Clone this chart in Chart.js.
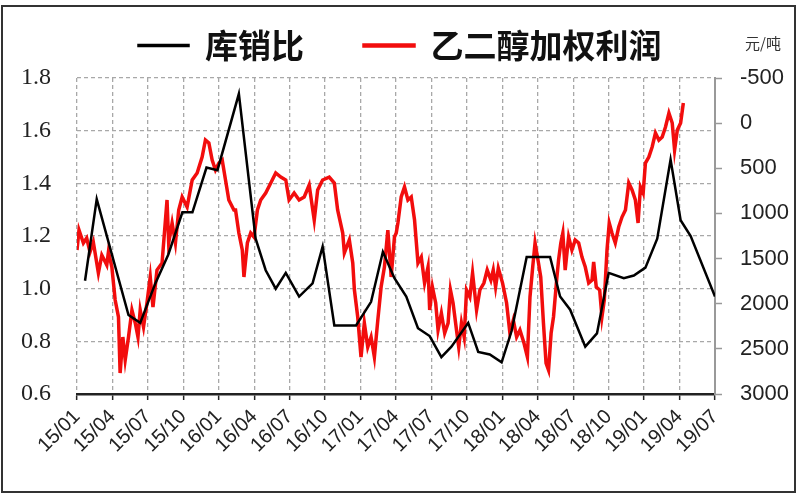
<!DOCTYPE html>
<html>
<head>
<meta charset="utf-8">
<script src="https://cdn.jsdelivr.net/npm/chart.js@4.4.1/dist/chart.umd.min.js"></script>
<style>
  html, body { margin: 0; padding: 0; background: #fff; }
  #wrap { width: 800px; height: 500px; }
</style>
</head>
<body>
<div id="wrap"><canvas id="chart" width="800" height="500"></canvas></div>
<script>
// x values are months counted from 2015/01
const tickLabels = ['15/01', '15/04', '15/07', '15/10', '16/01', '16/04', '16/07', '16/10',
  '17/01', '17/04', '17/07', '17/10', '18/01', '18/04', '18/07', '18/10', '19/01', '19/04', '19/07'];

// 库销比 (left axis)
const ratioMonths = [0.68, 1.67, 4.36, 5.35, 6.63, 7.73, 8.92, 9.77, 10.96, 11.89,
  13.70, 15.12, 15.97, 16.82, 17.67, 18.80, 19.94, 20.79, 21.78, 23.62,
  24.89, 25.89, 26.87, 27.87, 28.86, 29.85, 30.84, 31.69, 33.11, 33.96,
  34.94, 35.94, 36.79, 38.06, 40.04, 40.89, 41.74, 43.02, 44.01, 45.00,
  46.28, 47.13, 48.11, 49.11, 50.24, 51.09, 51.94, 54.0];
const ratioValues = [1.03, 1.34, 0.90, 0.87, 1.02, 1.13, 1.29, 1.29, 1.46, 1.45,
  1.74, 1.19, 1.07, 1.00, 1.06, 0.97, 1.02, 1.16, 0.86, 0.86,
  0.95, 1.14, 1.04, 0.97, 0.85, 0.82, 0.74, 0.78, 0.87, 0.76,
  0.75, 0.72, 0.84, 1.12, 1.12, 0.97, 0.92, 0.78, 0.83, 1.06,
  1.04, 1.05, 1.08, 1.19, 1.49, 1.26, 1.20, 0.97];

// 乙二醇加权利润 (right axis, 元/吨, reversed)
const profitMonths = [0, 0.17, 0.54, 0.82, 1.10, 1.38, 1.81, 2.10, 2.52, 2.66,
  2.95, 3.23, 3.51, 3.65, 3.88, 4.08, 4.36, 4.65, 4.93, 5.16,
  5.35, 5.63, 5.92, 6.20, 6.43, 6.77, 7.20, 7.62, 7.76, 8.05,
  8.33, 8.61, 8.90, 9.32, 9.75, 10.17, 10.59, 10.87, 11.16, 11.44,
  11.72, 12.01, 12.29, 12.57, 12.85, 13.28,
  13.42, 13.70, 13.99, 14.13, 14.42, 14.70, 14.98, 15.27, 15.55, 15.97,
  16.40, 16.82, 17.25, 17.67, 17.95, 18.38, 18.80, 19.23, 19.65, 20.08,
  20.37, 20.79, 21.35, 21.78, 22.06, 22.49, 22.63, 23.05, 23.34, 23.48,
  23.76, 24.04, 24.32, 24.61, 24.89, 25.17, 25.46, 25.74, 26.02, 26.31,
  26.59, 26.87,
  27.02, 27.16, 27.44, 27.72, 28.01, 28.29, 28.57, 28.86, 29.14, 29.42,
  29.71, 29.85, 30.08, 30.36, 30.56, 30.84, 31.12, 31.41, 31.61, 31.83,
  32.12, 32.31, 32.54, 32.77, 32.97, 33.25, 33.48, 33.82, 34.10, 34.44,
  34.72, 35.03, 35.23, 35.43, 35.66, 36.02, 36.36, 36.64, 36.93, 37.21,
  37.49, 37.83, 38.12, 38.34, 38.57, 38.77, 39.06, 39.25, 39.48, 39.70,
  39.91, 40.13, 40.33,
  40.61, 40.76, 40.95, 41.12, 41.32, 41.61, 41.89, 42.17, 42.46, 42.74,
  43.02, 43.31, 43.59, 43.73, 43.95, 44.24, 44.43, 44.63, 44.86, 45.05,
  45.28, 45.56, 45.85, 46.13, 46.42, 46.70, 46.98, 47.26, 47.49, 47.69,
  47.92, 48.11, 48.40, 48.68, 48.96, 49.25, 49.53, 49.81, 50.10, 50.38,
  50.58, 50.81, 51.09, 51.32];
const profitValues = [1405, 1184, 1327, 1272, 1427, 1316, 1660, 1461, 1571, 1427,
  1594, 1959, 2147, 2768, 2369, 2624, 2369, 2070, 2214, 2369,
  2070, 2258, 1992, 1704, 2037, 1627, 1549, 851, 1327, 1106,
  1327, 962, 818, 929, 630, 552, 375, 187, 220, 408,
  519, 442, 408, 630, 851, 962,
  962, 1217, 1405, 1704, 1327, 1217, 1261, 962, 851, 774,
  663, 552, 597, 630, 851, 774, 851, 818, 685, 1073,
  740, 630, 597, 663, 962, 1217, 1438, 1294, 1549, 1848,
  2147, 2590, 2214, 2480, 2369, 2590, 2181, 1815, 1594, 1184,
  1704, 1261,
  1217, 1106, 818, 707, 851, 818, 1073, 1549, 1483, 1771,
  1594, 2070, 1815, 1992, 2291, 2103, 2325, 2214, 1848, 1992,
  2291, 2480, 2214, 2369, 1848, 1926, 1660, 2070, 1848, 1771,
  1627, 1738, 1627, 1815, 1605, 1771, 1992, 2325, 2181, 2369,
  2291, 2436, 2590, 1926, 1594, 1327, 1549, 1704, 2214, 2657,
  2735, 2325, 2147,
  1720, 1516, 1327, 1217, 1627, 1261, 1405, 1294, 1327, 1483,
  1594, 1771, 1738, 1538, 1815, 1848, 2147, 1959, 1405, 1106,
  1217, 1327, 1151, 1040, 962, 663, 740, 851, 1106, 707,
  774, 442, 375, 264, 109, 187, 153, 43, -112, -1,
  298, 76, -1, -223];

const ratioPoints = ratioMonths.map((m, i) => ({ x: m, y: ratioValues[i] }));
const profitPoints = profitMonths.map((m, i) => ({ x: m, y: profitValues[i] }));

// white background, outer frame and unit label
const framePlugin = {
  id: 'frame',
  beforeDraw(chart) {
    const ctx = chart.ctx;
    ctx.save();
    ctx.fillStyle = '#fff';
    ctx.fillRect(0, 0, chart.width, chart.height);
    ctx.strokeStyle = '#333';
    ctx.lineWidth = 2;
    ctx.strokeRect(2, 6, 793, 486);
    ctx.restore();
  },
  afterDraw(chart) {
    const ctx = chart.ctx;
    ctx.save();
    ctx.fillStyle = '#333';
    ctx.font = '15px "Noto Sans CJK SC"';
    ctx.textBaseline = 'middle';
    ctx.fillText('元/吨', 745, 43);
    ctx.restore();
  }
};

const gridColor = '#a8a8a8';

new Chart(document.getElementById('chart'), {
  type: 'line',
  data: {
    datasets: [{
      label: '库销比',
      data: ratioPoints,
      yAxisID: 'y',
      borderColor: '#000',
      backgroundColor: '#000',
      borderWidth: 2.5,
      pointRadius: 0,
      tension: 0
    }, {
      label: '乙二醇加权利润',
      data: profitPoints,
      yAxisID: 'y1',
      borderColor: '#f20d0d',
      backgroundColor: '#c0262a',
      borderWidth: 3.5,
      pointRadius: 0,
      tension: 0
    }]
  },
  options: {
    responsive: false,
    animation: false,
    // negative top padding: the wide legend item spacing also adds height above the row
    layout: { padding: { top: -31, left: 0, right: 0, bottom: 0 } },
    plugins: {
      legend: {
        position: 'top',
        labels: {
          boxWidth: 50,
          boxHeight: 1,
          padding: 60,
          color: '#111',
          font: { family: '"Noto Sans CJK SC"', size: 33, weight: 'bold' }
        }
      },
      title: {
        display: true,
        text: '',
        weight: 500,
        padding: { top: 0, bottom: 5 },
        font: { size: 1, lineHeight: 1 }
      },
      tooltip: { enabled: false }
    },
    scales: {
      x: {
        type: 'linear',
        min: 0,
        max: 54,
        afterFit: s => { s.height = 106; },
        ticks: {
          stepSize: 3,
          includeBounds: false,
          autoSkip: false,
          minRotation: 45,
          maxRotation: 45,
          padding: 5,
          color: '#222',
          font: { family: '"Liberation Sans", Arial', size: 20 },
          callback: v => tickLabels[Math.round(v / 3)]
        },
        grid: {
          color: gridColor,
          lineWidth: 1.3,
          drawTicks: true,
          tickLength: 6,
          tickColor: '#222',
          tickWidth: 1.5
        },
        border: { display: true, color: '#222', width: 2.5, dash: [4, 3] }
      },
      y: {
        position: 'left',
        min: 0.6,
        max: 1.8,
        afterFit: s => { s.width = 77; },
        ticks: {
          stepSize: 0.2,
          padding: 26,
          color: '#222',
          font: { family: '"Liberation Serif", "Times New Roman"', size: 24 },
          callback: v => v.toFixed(1)
        },
        grid: { color: gridColor, lineWidth: 1.3, drawTicks: false },
        border: { display: false, dash: [4, 3] }
      },
      y1: {
        position: 'right',
        reverse: true,
        min: -500,
        max: 3000,
        afterFit: s => { s.width = 85; },
        ticks: {
          stepSize: 500,
          padding: 18,
          color: '#222',
          font: { family: '"Liberation Sans", Arial', size: 22 },
          callback: v => String(v)
        },
        grid: {
          drawOnChartArea: false,
          drawTicks: true,
          tickLength: 7,
          tickColor: '#999',
          tickWidth: 1.5
        },
        border: { display: true, color: '#999', width: 2 }
      }
    }
  },
  plugins: [framePlugin]
});
</script>
</body>
</html>
